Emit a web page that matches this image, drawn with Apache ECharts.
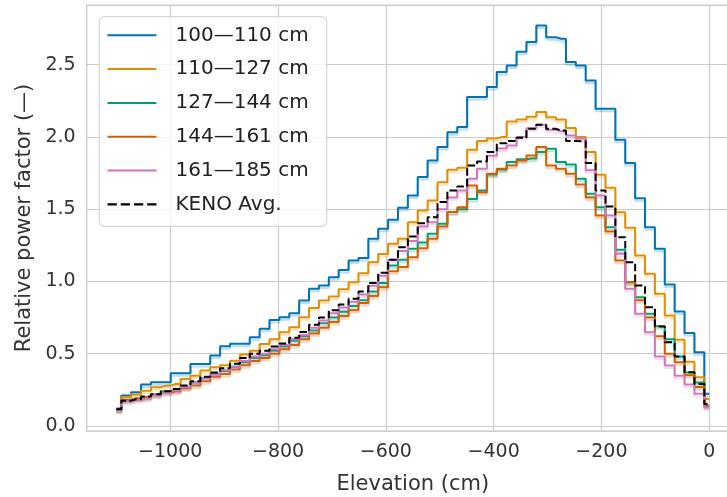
<!DOCTYPE html>
<html>
<head>
<meta charset="utf-8">
<script src="https://cdn.jsdelivr.net/npm/echarts@6/dist/echarts.min.js"></script>
<style>
html,body{margin:0;padding:0;background:#fff;}
#chart{width:727px;height:497px;}
</style>
</head>
<body>
<div id="chart"></div>
<script>
// Elevation (cm) of each axial node
const elevations = [-1100, -1081.67, -1063.33, -1045, -1026.67, -1008.33, -990, -971.67, -953.33, -935,
  -916.67, -898.33, -880, -861.67, -843.33, -825, -806.67, -788.33, -770, -751.67,
  -733.33, -715, -696.67, -678.33, -660, -641.67, -623.33, -605, -586.67, -568.33,
  -550, -531.67, -513.33, -495, -476.67, -458.33, -440, -421.67, -403.33, -385,
  -366.67, -348.33, -330, -311.67, -293.33, -275, -256.67, -238.33, -220, -201.67,
  -183.33, -165, -146.67, -128.33, -110, -91.67, -73.33, -55, -36.67, -18.33, 0];

const seriesNames = ['100\u2014110 cm', '110\u2014127 cm', '127\u2014144 cm', '144\u2014161 cm', '161\u2014185 cm', 'KENO Avg.'];

const r100_110 = [0.12, 0.21, 0.233, 0.286, 0.302, 0.302, 0.364, 0.364, 0.429, 0.429,
  0.487, 0.551, 0.568, 0.568, 0.614, 0.672, 0.734, 0.752, 0.78, 0.868,
  0.949, 0.972, 1.029, 1.08, 1.145, 1.163, 1.295, 1.364, 1.427, 1.51,
  1.595, 1.722, 1.837, 1.93, 2.033, 2.068, 2.276, 2.276, 2.345, 2.449,
  2.495, 2.59, 2.657, 2.772, 2.69, 2.68, 2.518, 2.495, 2.391, 2.195,
  2.195, 1.98, 1.82, 1.576, 1.375, 1.226, 0.979, 0.792, 0.644, 0.51, 0.222];

const r110_127 = [0.11, 0.198, 0.217, 0.244, 0.268, 0.279, 0.29, 0.325, 0.348, 0.383,
  0.406, 0.42, 0.451, 0.494, 0.52, 0.567, 0.6, 0.648, 0.683, 0.752,
  0.817, 0.868, 0.895, 0.946, 0.995, 1.057, 1.133, 1.19, 1.26, 1.295,
  1.41, 1.491, 1.56, 1.687, 1.773, 1.787, 1.911, 1.971, 1.99, 2.0,
  2.107, 2.121, 2.14, 2.172, 2.137, 2.121, 2.061, 1.999, 1.895, 1.738,
  1.648, 1.479, 1.371, 1.179, 1.053, 0.914, 0.764, 0.596, 0.445, 0.337, 0.187];

const r127_144 = [0.11, 0.18, 0.19, 0.2, 0.22, 0.24, 0.25, 0.27, 0.3, 0.33,
  0.36, 0.38, 0.41, 0.44, 0.47, 0.49, 0.52, 0.55, 0.59, 0.62,
  0.66, 0.71, 0.75, 0.79, 0.83, 0.87, 0.93, 0.99, 1.11, 1.15,
  1.226, 1.27, 1.33, 1.4, 1.48, 1.5, 1.57, 1.63, 1.74, 1.775,
  1.826, 1.845, 1.85, 1.895, 1.918, 1.826, 1.81, 1.71, 1.607, 1.514,
  1.375, 1.219, 0.995, 0.891, 0.776, 0.69, 0.6, 0.48, 0.37, 0.3, 0.14];

const r144_161 = [0.11, 0.18, 0.19, 0.2, 0.215, 0.23, 0.24, 0.26, 0.28, 0.31,
  0.34, 0.36, 0.39, 0.42, 0.45, 0.47, 0.5, 0.53, 0.56, 0.6,
  0.64, 0.68, 0.72, 0.76, 0.8, 0.85, 0.9, 0.96, 1.07, 1.1,
  1.168, 1.23, 1.295, 1.38, 1.48, 1.514, 1.664, 1.618, 1.745, 1.78,
  1.803, 1.837, 1.872, 1.93, 1.803, 1.78, 1.745, 1.67, 1.58, 1.456,
  1.345, 1.145, 0.995, 0.87, 0.75, 0.62, 0.5, 0.44, 0.35, 0.27, 0.14];

const r161_185 = [0.11, 0.17, 0.18, 0.19, 0.21, 0.23, 0.245, 0.27, 0.3, 0.33,
  0.355, 0.385, 0.41, 0.45, 0.48, 0.5, 0.53, 0.56, 0.6, 0.63,
  0.68, 0.73, 0.78, 0.82, 0.86, 0.91, 0.97, 1.04, 1.15, 1.21,
  1.28, 1.38, 1.41, 1.5, 1.58, 1.63, 1.71, 1.78, 1.87, 1.92,
  1.94, 2.0, 2.06, 2.085, 2.05, 2.04, 2.01, 1.99, 1.77, 1.595,
  1.456, 1.191, 0.949, 0.776, 0.648, 0.48, 0.418, 0.348, 0.286, 0.222, 0.129];

const kenoAvg = [0.115, 0.175, 0.185, 0.203, 0.22, 0.24, 0.255, 0.28, 0.31, 0.34,
  0.37, 0.4, 0.43, 0.47, 0.5, 0.52, 0.55, 0.57, 0.61, 0.65,
  0.7, 0.75, 0.8, 0.84, 0.88, 0.93, 0.99, 1.06, 1.15, 1.237,
  1.311, 1.403, 1.445, 1.549, 1.63, 1.657, 1.803, 1.83, 1.895, 1.956,
  1.972, 1.995, 2.056, 2.085, 2.056, 2.045, 1.972, 1.97, 1.82, 1.63,
  1.519, 1.306, 1.133, 0.972, 0.821, 0.688, 0.579, 0.48, 0.371, 0.291, 0.152];

const xTicks = [-1000, -800, -600, -400, -200, 0];
const yTicks = [0.0, 0.5, 1.0, 1.5, 2.0, 2.5];

const colors = ['#0173b2', '#de8f05', '#029e73', '#d55e00', '#cc78bc', '#000000'];
const shades = ['rgba(1,115,178,0.28)', 'rgba(222,143,5,0.28)', 'rgba(2,158,115,0.28)',
  'rgba(213,94,0,0.28)', 'rgba(204,120,188,0.28)', 'rgba(0,0,0,0.0)'];
const allValues = [r100_110, r110_127, r127_144, r144_161, r161_185, kenoAvg];

const FONT = 'DejaVu Sans';
const chart = echarts.init(document.getElementById('chart'), null, {renderer: 'canvas'});

const series = allValues.map((vals, i) => ({
  name: seriesNames[i],
  type: 'line',
  step: 'middle',
  symbol: 'none',
  data: elevations.map((x, j) => [x, vals[j]]),
  lineStyle: {
    color: colors[i],
    width: 2,
    type: i === 5 ? [7.5, 3.3] : 'solid',
    shadowColor: shades[i],
    shadowBlur: 1,
    shadowOffsetY: 2.5
  },
  itemStyle: {color: colors[i]},
  emphasis: {disabled: true},
  z: 2 + i
}));

const near = (v, arr, eps) => arr.find(t => Math.abs(v - t) < eps);
const fmtX = v => {
  const t = near(v, xTicks, 1e-6);
  if (t === undefined) return '';
  return t < 0 ? '\u2212' + Math.abs(t) : String(t);
};
const fmtY = v => {
  const t = near(v, yTicks, 1e-6);
  return t === undefined ? '' : t.toFixed(1);
};

const solidIcon = 'path://M0,0 L49,0 L49,2 L0,2 Z';
const dashIcon = 'path://M0,0 h8.5 v2 h-8.5 Z M12,0 h8.5 v2 h-8.5 Z M24,0 h8.5 v2 h-8.5 Z M36,0 h8.5 v2 h-8.5 Z';

chart.setOption({
  animation: false,
  backgroundColor: '#ffffff',
  textStyle: {fontFamily: FONT},
  grid: {
    left: 86.7, top: 5, width: 652.2, height: 426,
    show: true, borderColor: '#cccccc', borderWidth: 1.2, backgroundColor: 'transparent',
    containLabel: false, outerBoundsMode: 'none'
  },
  xAxis: {
    type: 'value', min: -1155, max: 55, splitNumber: 6,
    axisLine: {show: false}, axisTick: {show: false},
    splitLine: {show: true, lineStyle: {color: '#cccccc', width: 1.2}},
    axisLabel: {formatter: fmtX, color: '#333333', fontSize: 19, fontFamily: FONT, margin: 12},
    name: 'Elevation (cm)', nameLocation: 'middle', nameGap: 43,
    nameTextStyle: {color: '#333333', fontSize: 21, fontFamily: FONT}
  },
  yAxis: {
    type: 'value', min: -0.035, max: 2.913, splitNumber: 6,
    axisLine: {show: false}, axisTick: {show: false},
    splitLine: {show: true, lineStyle: {color: '#cccccc', width: 1.2}},
    axisLabel: {formatter: fmtY, color: '#333333', fontSize: 19, fontFamily: FONT, margin: 11},
    name: 'Relative power factor (\u2014)', nameLocation: 'middle', nameGap: 50,
    nameTextStyle: {color: '#333333', fontSize: 21, fontFamily: FONT}
  },
  legend: {
    show: true, orient: 'vertical', left: 99.3, top: 16.7,
    padding: [7.6, 18, 11, 8.2],
    itemWidth: 49, itemHeight: 2.2, itemGap: 11.8,
    backgroundColor: 'rgba(255,255,255,0.8)', borderColor: '#d6d6d6', borderWidth: 1.2, borderRadius: 5,
    textStyle: {fontSize: 20, fontFamily: FONT, color: '#222222', lineHeight: 22, padding: [0, 0, 0, 14]},
    data: seriesNames.map((n, i) => ({name: n, icon: i === 5 ? dashIcon : solidIcon, itemStyle: {color: colors[i]}}))
  },
  series: series
});
</script>
</body>
</html>
